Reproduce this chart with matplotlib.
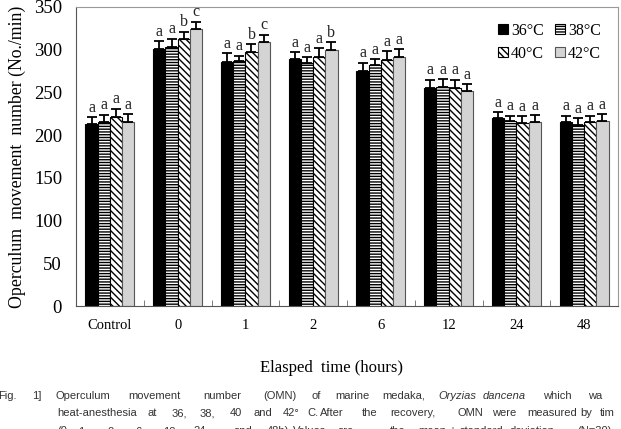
import matplotlib
matplotlib.use("Agg")
import matplotlib.pyplot as plt
from matplotlib.patches import Patch
import numpy as np

plt.rcParams['hatch.linewidth'] = 1.0

categories = ["Control", "0", "1", "2", "6", "12", "24", "48"]
series_names = ["36\u00b0C", "38\u00b0C", "40\u00b0C", "42\u00b0C"]

omn_36 = [212.5, 301, 286, 288.7, 275, 254.7, 220, 215]
omn_38 = [215.6, 303.5, 287, 285, 282, 256, 217, 212]
omn_40 = [221.5, 313, 297.7, 292, 288, 255, 213.7, 215.6]
omn_42 = [215, 324, 309, 299.6, 292, 252, 215, 217]

sd_36 = [8.5, 9, 10, 8.5, 10, 10.3, 7, 7.7]
sd_38 = [8.4, 9.5, 6, 6, 6.7, 9.6, 5.7, 8]
sd_40 = [9.5, 8, 8.9, 10, 10, 10, 8.3, 7.1]
sd_42 = [10, 9, 8.6, 9.4, 9, 8, 8, 8]

letters_36 = ["a", "a", "a", "a", "a", "a", "a", "a"]
letters_38 = ["a", "a", "a", "a", "a", "a", "a", "a"]
letters_40 = ["a", "b", "b", "a", "a", "a", "a", "a"]
letters_42 = ["a", "c", "c", "b", "a", "a", "a", "a"]

values = [omn_36, omn_38, omn_40, omn_42]
sds = [sd_36, sd_38, sd_40, sd_42]
letters = [letters_36, letters_38, letters_40, letters_42]

facecolors = ["black", "white", "white", "#d4d4d4"]
hatches = [None, "------", "\\\\\\\\\\", None]
edgecolors = ["black", "black", "black", "#555555"]

serif = ["Liberation Serif", "DejaVu Serif"]

fig = plt.figure(figsize=(6.21, 4.29), dpi=100)
ax = fig.add_axes([0.1224, 0.2867, 0.8728, 0.697])

x = np.arange(len(categories)) + 0.5
w = 0.18
for k in range(4):
    xs = x + (k - 1.5) * w
    ax.bar(xs, values[k], width=w, color=facecolors[k], edgecolor=edgecolors[k],
           hatch=hatches[k], linewidth=0.8, zorder=2)
    ax.errorbar(xs, values[k], yerr=[np.zeros(len(sds[k])), sds[k]], fmt="none",
                ecolor="black", elinewidth=1.3, capsize=3.5, capthick=1.3, zorder=3)
    for xi, v, s, lab in zip(xs, values[k], sds[k], letters[k]):
        ax.text(xi, v + s + 1.5, lab, ha="center", va="bottom", fontsize=11.5,
                family=serif, color="#222222")

ax.set_xlim(0, len(categories))
ax.set_ylim(0, 350)
ax.set_yticks(np.arange(0, 351, 50))
ax.set_xticks(x)
ax.set_xticklabels(categories, family=serif, fontsize=10.5)
ax.set_xticks(np.arange(1, len(categories)), minor=True)
ax.tick_params(axis="x", which="major", length=0, pad=9)
ax.tick_params(axis="x", which="minor", length=4, direction="in", color="#666666")
ax.tick_params(axis="y", length=0, pad=10)
for t in ax.get_yticklabels():
    t.set_family(serif)
    t.set_fontsize(13.5)

for side in ["left", "bottom"]:
    ax.spines[side].set_color("#555555")
for side in ["top", "right"]:
    ax.spines[side].set_color("#999999")

ax.set_ylabel("Operculum  movement  number (No./min)", family=serif, fontsize=12.8,
              labelpad=6)

order = [0, 2, 1, 3]
handles = [Patch(facecolor=facecolors[k], edgecolor="black" if k < 3 else "#555555",
                 hatch=hatches[k], linewidth=0.8) for k in order]
ax.legend(handles, [series_names[k] for k in order], ncol=2, loc="upper right",
          frameon=False, prop={"family": serif, "size": 11.5}, handlelength=0.6,
          handleheight=0.6, handletextpad=0.2, columnspacing=0.7, labelspacing=0.45,
          bbox_to_anchor=(0.995, 0.995))

fig.text(332 / 621, 1 - 368 / 429, "Elasped  time (hours)", ha="center", va="center",
         family=serif, fontsize=12)

cap_font = ["Liberation Sans", "DejaVu Sans"]
cap_color = "#333333"
line1 = [("Fig.", -2), ("1]", 32), ("Operculum", 55), ("movement", 128), ("number", 203),
         ("(OMN)", 263), ("of", 312), ("marine", 335), ("medaka,", 382),
         ("Oryzias", 438), ("dancena", 483), ("which", 543), ("wa", 588)]
line2 = [("heat-anesthesia", 57), ("at", 148), ("36,", 172), ("38,", 200), ("40", 230),
         ("and", 253), ("42\u00b0", 283), ("C.", 307), ("After", 320), ("the", 362),
         ("recovery,", 390), ("OMN", 457), ("were", 492), ("measured", 527), ("by", 580),
         ("tim", 600)]
line3 = [("(0,", 57), ("1,", 78), ("2,", 107), ("6,", 135), ("12,", 163), ("24", 193),
         ("and", 233), ("48h).", 267), ("Values", 293), ("are", 338), ("the", 390),
         ("mean", 418), ("\u00b1", 450), ("standard", 460), ("deviation", 510),
         ("(N=30).", 577)]
for yy, line in [(396, line1), (413, line2), (431, line3)]:
    for word, xx in line:
        style = "italic" if word in ("Oryzias", "dancena") else "normal"
        fig.text(xx / 621, 1 - yy / 429, word, ha="left", va="center",
                 family=cap_font, fontsize=8.0, color=cap_color, style=style)

fig.savefig("out.png", dpi=100)
